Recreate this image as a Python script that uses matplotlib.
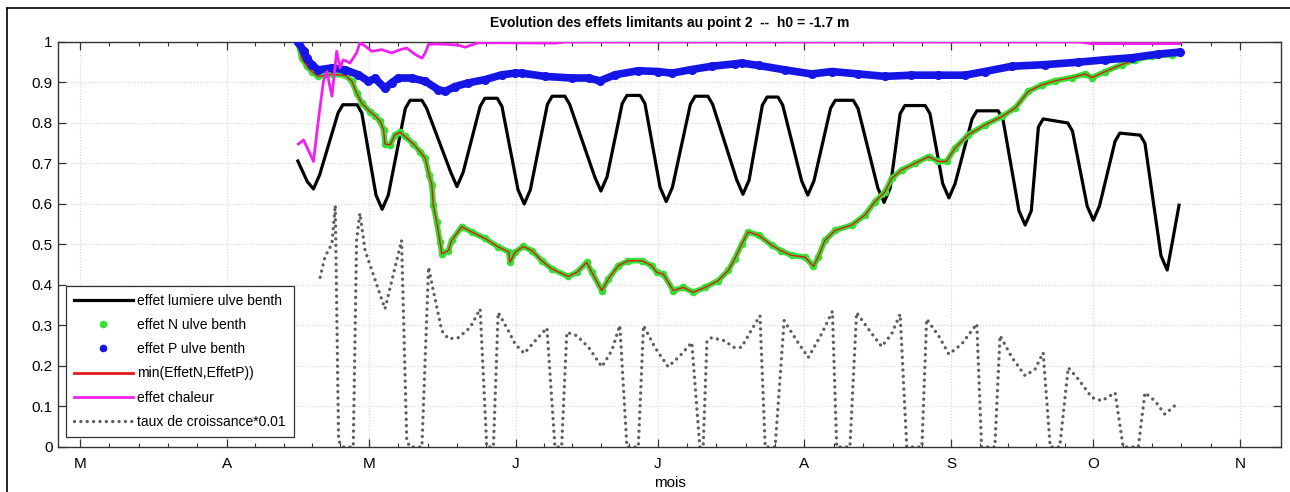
import matplotlib.pyplot as plt
from matplotlib.lines import Line2D
import numpy as np

plt.rcParams['font.family'] = ['Liberation Sans', 'DejaVu Sans']

# --- data (x = day of year) ---
month_days = [60, 91, 121, 152, 182, 213, 244, 274, 305]
month_labels = ['M', 'A', 'M', 'J', 'J', 'A', 'S', 'O', 'N']

# effet lumiere ulve benth
lum_day = [106.0, 108.0, 109.3, 110.6, 114.5, 115.5, 118.5, 119.5, 122.5, 123.8,
           125.1, 128.7, 129.7, 132.2, 133.2, 138.3, 139.6, 140.9, 144.5, 145.5,
           148.1, 149.1, 152.5, 153.8, 155.1, 158.7, 159.7, 162.4, 163.4, 168.7,
           170.0, 171.3, 174.5, 175.5, 178.3, 179.3, 182.5, 183.8, 185.1, 188.9,
           189.9, 192.6, 193.6, 198.7, 200.0, 201.3, 204.1, 205.1, 207.4, 208.4,
           212.4, 213.7, 215.0, 218.5, 219.5, 223.3, 224.3, 228.5, 229.8, 231.1,
           233.2, 234.2, 238.5, 239.5, 242.2, 243.5, 244.8, 248.4, 249.4, 253.9,
           254.9, 258.3, 259.6, 260.9, 262.4, 263.4, 268.6, 269.6, 272.7, 274.0,
           275.3, 278.6, 279.6, 283.9, 284.9, 288.3, 289.6, 290.6, 292.1]
lum_val = [0.706, 0.655, 0.637, 0.672, 0.825, 0.845, 0.845, 0.825, 0.622, 0.587,
           0.622, 0.836, 0.856, 0.856, 0.836, 0.678, 0.643, 0.678, 0.841, 0.861,
           0.861, 0.841, 0.635, 0.600, 0.635, 0.846, 0.866, 0.866, 0.846, 0.667,
           0.632, 0.667, 0.848, 0.868, 0.868, 0.848, 0.641, 0.606, 0.641, 0.846,
           0.866, 0.866, 0.846, 0.659, 0.624, 0.659, 0.844, 0.864, 0.864, 0.844,
           0.657, 0.622, 0.657, 0.836, 0.856, 0.856, 0.836, 0.639, 0.604, 0.639,
           0.823, 0.843, 0.843, 0.823, 0.650, 0.615, 0.650, 0.810, 0.830, 0.830,
           0.810, 0.583, 0.548, 0.583, 0.790, 0.810, 0.800, 0.780, 0.595, 0.560,
           0.595, 0.755, 0.775, 0.770, 0.750, 0.472, 0.437, 0.500, 0.597]

# effet N ulve benth
n_day = [106.0, 106.8, 107.9, 108.9, 110.3, 113.2, 116.0, 117.4, 118.4, 119.5,
         121.2, 122.3, 123.4, 124.1, 124.4, 125.5, 126.5, 127.6, 128.6, 130.4,
         131.8, 132.9, 133.7, 134.3, 134.6, 135.3, 136.0, 136.4, 137.8, 138.5,
         140.6, 142.7, 145.5, 148.3, 150.5, 150.8, 151.9, 153.6, 155.4, 157.5,
         159.6, 163.1, 164.9, 167.0, 168.1, 170.2, 171.6, 173.7, 175.8, 178.6,
         180.7, 181.8, 183.2, 185.3, 187.4, 189.5, 192.0, 194.8, 196.9, 198.3,
         199.7, 201.1, 203.3, 206.1, 208.0, 210.3, 213.1, 214.9, 215.9, 217.3,
         219.5, 223.0, 225.8, 227.9, 230.0, 231.4, 233.5, 236.3, 239.2, 241.3,
         243.0, 244.8, 247.6, 251.1, 254.7, 257.5, 260.3, 263.1, 265.9, 269.4,
         272.3, 273.7, 276.5, 280.0, 282.8, 286.3, 290.6, 292.3]
n_val = [1.000, 0.960, 0.940, 0.927, 0.915, 0.920, 0.918, 0.903, 0.874, 0.849,
         0.828, 0.818, 0.804, 0.783, 0.748, 0.746, 0.771, 0.777, 0.767, 0.748,
         0.729, 0.713, 0.672, 0.647, 0.597, 0.556, 0.507, 0.477, 0.485, 0.510,
         0.544, 0.531, 0.515, 0.494, 0.482, 0.456, 0.481, 0.495, 0.485, 0.460,
         0.440, 0.421, 0.431, 0.456, 0.431, 0.386, 0.415, 0.448, 0.460, 0.460,
         0.448, 0.431, 0.427, 0.386, 0.394, 0.382, 0.394, 0.411, 0.436, 0.465,
         0.500, 0.531, 0.523, 0.498, 0.485, 0.473, 0.469, 0.446, 0.469, 0.510,
         0.535, 0.548, 0.573, 0.606, 0.630, 0.663, 0.684, 0.700, 0.717, 0.705,
         0.705, 0.738, 0.771, 0.795, 0.816, 0.837, 0.878, 0.894, 0.904, 0.912,
         0.921, 0.912, 0.927, 0.944, 0.956, 0.965, 0.969, 0.973]

# min(EffetN, EffetP) -- follows effet N over the whole period
min_day = n_day
min_val = n_val

# effet P ulve benth
p_day = [106.1, 107.2, 107.9, 108.9, 110.3, 113.2, 116.0, 118.8, 120.9, 122.3,
         124.4, 125.8, 127.2, 130.0, 132.9, 135.7, 137.1, 139.2, 142.0, 145.5,
         149.1, 151.9, 153.3, 158.2, 163.8, 167.4, 169.8, 173.0, 177.9, 182.1,
         185.0, 189.2, 193.4, 198.3, 199.7, 203.3, 208.9, 214.5, 218.8, 224.4,
         230.0, 235.6, 241.3, 246.9, 251.1, 256.8, 263.8, 270.8, 276.5, 282.1,
         287.7, 292.3]
p_val = [1.000, 0.977, 0.960, 0.944, 0.931, 0.936, 0.931, 0.919, 0.903, 0.910,
         0.886, 0.899, 0.911, 0.911, 0.903, 0.882, 0.878, 0.890, 0.899, 0.907,
         0.919, 0.923, 0.923, 0.915, 0.911, 0.911, 0.904, 0.919, 0.929, 0.927,
         0.923, 0.932, 0.940, 0.946, 0.948, 0.942, 0.931, 0.921, 0.927, 0.921,
         0.915, 0.918, 0.918, 0.918, 0.927, 0.940, 0.944, 0.950, 0.956, 0.961,
         0.970, 0.975]

# effet chaleur
ch_day = [106.1, 107.2, 108.2, 109.3, 110.3, 111.4, 112.1, 112.4, 113.2, 114.2,
          114.9, 115.6, 117.0, 118.4, 119.1, 120.2, 121.6, 123.7, 125.8, 127.6,
          129.0, 130.8, 132.2, 132.9, 133.6, 135.0, 137.8, 139.9, 141.3, 144.1,
          148.3, 160.3, 162.4, 271.0, 273.7, 292.3]
ch_val = [0.748, 0.758, 0.733, 0.705, 0.804, 0.903, 0.927, 0.911, 0.866, 0.977,
          0.936, 0.956, 0.948, 0.973, 0.998, 0.990, 0.977, 0.981, 0.973, 0.981,
          0.985, 0.969, 0.960, 0.973, 0.994, 0.995, 0.994, 0.992, 0.987, 0.998,
          0.998, 0.997, 1.000, 1.000, 0.996, 0.996]

# taux de croissance*0.01
tx_day = [110.7, 111.7, 113.2, 113.9, 114.6, 115.6, 117.7, 118.4, 119.1, 120.2,
          124.4, 127.9, 129.0, 129.7, 132.2, 133.6, 134.3, 136.4, 137.8, 139.9,
          142.4, 144.5, 145.9, 147.3, 148.3, 150.1, 151.9, 153.8, 156.1, 158.6,
          160.3, 161.7, 162.8, 164.9, 167.4, 170.2, 172.3, 174.0, 175.5, 177.9,
          179.0, 181.4, 184.2, 186.7, 189.2, 190.9, 191.6, 192.4, 193.4, 196.2,
          198.0, 199.7, 201.9, 203.6, 204.7, 206.8, 208.7, 211.4, 213.8, 216.6,
          218.9, 219.8, 222.6, 224.0, 226.5, 229.3, 231.4, 233.2, 234.6, 237.8,
          238.8, 241.3, 243.5, 246.2, 249.4, 250.4, 253.2, 254.3, 256.8, 259.6,
          261.7, 263.4, 264.9, 266.9, 268.7, 270.8, 273.7, 275.8, 278.6, 280.3,
          283.5, 284.9, 287.0, 289.1, 292.0]
tx_val = [0.419, 0.469, 0.502, 0.597, 0.015, 0.000, 0.000, 0.510, 0.577, 0.485,
          0.341, 0.510, 0.015, 0.000, 0.000, 0.444, 0.403, 0.287, 0.267, 0.270,
          0.295, 0.341, 0.000, 0.000, 0.332, 0.295, 0.254, 0.231, 0.262, 0.294,
          0.000, 0.000, 0.283, 0.275, 0.246, 0.198, 0.238, 0.300, 0.000, 0.000,
          0.300, 0.246, 0.198, 0.225, 0.258, 0.000, 0.000, 0.262, 0.270, 0.262,
          0.246, 0.246, 0.291, 0.324, 0.000, 0.000, 0.312, 0.262, 0.221, 0.279,
          0.335, 0.000, 0.000, 0.332, 0.291, 0.248, 0.279, 0.328, 0.000, 0.000,
          0.316, 0.275, 0.229, 0.254, 0.304, 0.000, 0.000, 0.275, 0.221, 0.176,
          0.192, 0.233, 0.000, 0.000, 0.196, 0.168, 0.122, 0.114, 0.134, 0.000,
          0.000, 0.134, 0.114, 0.081, 0.110]

# --- colours ---
c_lum = 'black'
c_n = '#35e035'
c_p = '#1515e6'
c_min = '#e01818'
c_ch = '#f020f0'
c_tx = '#5e5e5e'
dots = (0, (0.01, 1.9))

fig = plt.figure(figsize=(12.9, 4.92), dpi=100)
ax = fig.add_axes([0.0450, 0.0915, 0.9481, 0.8232])

# growth rate (dotted)
ax.plot(tx_day, tx_val, color=c_tx, lw=2.4, linestyle=dots,
        dash_capstyle='round', zorder=2)
# light effect
ax.plot(lum_day, lum_val, color=c_lum, lw=2.3, solid_joinstyle='round', zorder=3)
# N effect: dense green dots -> band + dots
ax.plot(n_day, n_val, color=c_n, lw=4.0, marker='o', ms=4.5, mec=c_n, zorder=4)
ax.plot(min_day, min_val, color=c_min, lw=1.0, zorder=5)
# P effect: dense blue dots -> band + dots
ax.plot(p_day, p_val, color=c_p, lw=5.5, marker='o', ms=5.5, mec=c_p,
        solid_joinstyle='round', solid_capstyle='round', zorder=6)
# heat effect
ax.plot(ch_day, ch_val, color=c_ch, lw=2.0, zorder=7)

ax.set_xlim(55.35, 313.66)
ax.set_ylim(0, 1)

# ticks
ax.set_xticks(month_days)
ax.set_xticklabels(month_labels)
minor = []
for a, b in zip(month_days[:-1], month_days[1:]):
    minor += [a + k * (b - a) / 5 for k in range(1, 5)]
ax.set_xticks(minor, minor=True)
ax.set_yticks(np.arange(0, 1.01, 0.1))
ax.set_yticklabels(['0', '0.1', '0.2', '0.3', '0.4', '0.5', '0.6', '0.7', '0.8', '0.9', '1'])
ax.tick_params(which='both', direction='in', top=True, right=True, labelsize=11,
               colors='#333333', labelcolor='black')
ax.tick_params(which='major', length=6, width=0.9)
ax.tick_params(which='minor', length=3, width=0.8)
ax.tick_params(axis='x', pad=7)
ax.tick_params(axis='y', pad=4)
for s in ax.spines.values():
    s.set_color('#333333')
    s.set_linewidth(1.0)

ax.grid(True, which='major', color='#d4d4d4', linestyle=':', linewidth=0.8)
ax.set_axisbelow(True)

ax.set_title('Evolution des effets limitants au point 2  --  h0 = -1.7 m',
             fontsize=10, fontweight='bold', pad=11)
ax.set_xlabel('mois', fontsize=11, labelpad=4)

# legend with proxy handles matching the original styles
handles = [
    Line2D([], [], color=c_lum, lw=2.3),
    Line2D([], [], color=c_n, ls='none', marker='o', ms=4.5),
    Line2D([], [], color=c_p, ls='none', marker='o', ms=4.5),
    Line2D([], [], color=c_min, lw=2.0),
    Line2D([], [], color=c_ch, lw=2.0),
    Line2D([], [], color=c_tx, lw=2.4, linestyle=dots, dash_capstyle='round'),
]
labels = ['effet lumiere ulve benth', 'effet N ulve benth', 'effet P ulve benth',
          'min(EffetN,EffetP))', 'effet chaleur', 'taux de croissance*0.01']
leg = ax.legend(handles, labels, loc='lower left', bbox_to_anchor=(0.0065, 0.0247),
                borderaxespad=0, fontsize=10, handlelength=4.2, handletextpad=0.3,
                labelspacing=0.73, borderpad=0.6, fancybox=False, framealpha=1,
                edgecolor='#333333')
leg.get_frame().set_linewidth(0.9)
leg.set_zorder(10)

# outer frame of the exported figure (left and top edges visible)
fig.add_artist(Line2D([7 / 1290, 7 / 1290], [0, 1 - 8 / 492],
                      transform=fig.transFigure, color='black', lw=1.2))
fig.add_artist(Line2D([7 / 1290, 1], [1 - 8 / 492, 1 - 8 / 492],
                      transform=fig.transFigure, color='black', lw=1.2))

fig.savefig('out.png', dpi=100)
